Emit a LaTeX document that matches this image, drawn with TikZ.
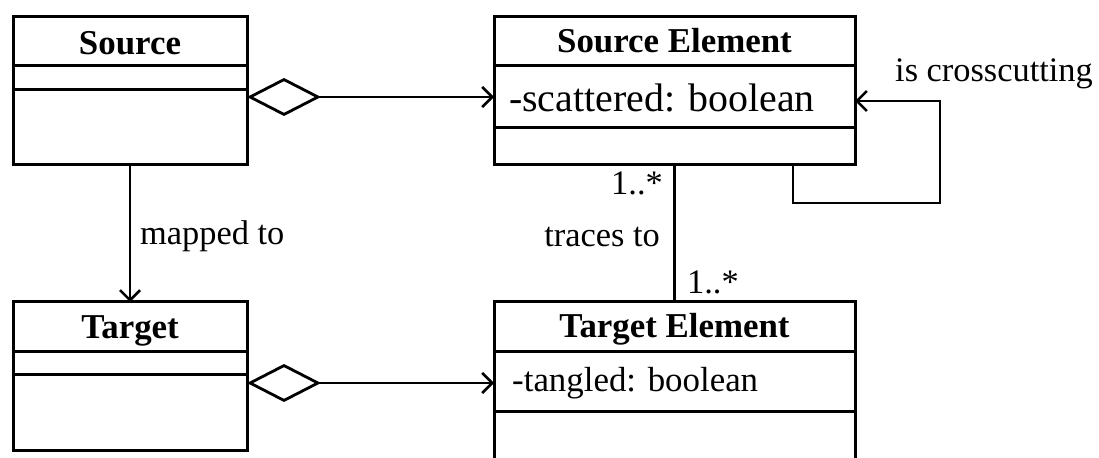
\documentclass[tikz,border=0pt]{standalone}
\usepackage{fontspec}
\setmainfont{Liberation Serif}
\usetikzlibrary{arrows.meta}
\begin{document}
\begin{tikzpicture}[x=1bp,y=-1bp,
  cls/.style={draw, line width=3bp, inner sep=0pt, outer sep=0pt, anchor=north west},
  sepline/.style={line width=3bp},
  title/.style={font=\fontsize{35}{40}\selectfont\bfseries, inner sep=0pt, anchor=base},
  lbl/.style={font=\fontsize{34.5}{40}\selectfont, inner sep=0pt},
  attr/.style={inner sep=0pt, anchor=base west},
  barb/.tip={Straight Barb[length=10bp,width=20bp,line width=2.6bp]},
  assoc/.style={line width=2.6bp, -barb},
  aggr/.style={line width=2.6bp, {Diamond[open,length=74bp,width=38bp,line width=2.8bp]}-barb}
]
\path[use as bounding box] (0,0) rectangle (1099,458);
\clip (0,0) rectangle (1099,458);

% classes
\node[cls, minimum width=234bp, minimum height=148bp] (src) at (13,17) {};
\node[cls, minimum width=361bp, minimum height=148bp] (se)  at (494,17) {};
\node[cls, minimum width=234bp, minimum height=148bp] (tgt) at (13,302) {};
\node[cls, minimum width=361bp, minimum height=180bp] (te)  at (494,302) {};

% compartments
\draw[sepline] (src.west |- 0,66) -- (src.east |- 0,66);
\draw[sepline] (src.west |- 0,90) -- (src.east |- 0,90);
\draw[sepline] (se.west |- 0,66) -- (se.east |- 0,66);
\draw[sepline] (se.west |- 0,128) -- (se.east |- 0,128);
\draw[sepline] (tgt.west |- 0,352) -- (tgt.east |- 0,352);
\draw[sepline] (tgt.west |- 0,375) -- (tgt.east |- 0,375);
\draw[sepline] (te.west |- 0,352) -- (te.east |- 0,352);
\draw[sepline] (te.west |- 0,412) -- (te.east |- 0,412);

% class names and attributes
\node[title] (srcname) at (130,55) {Source};
\node[title] (sename) at (674.5,53) {Source Element};
\node[title] (tgtname) at (130,339) {Target};
\node[title] (tename) at (674.5,338) {Target Element};
\node[attr, font=\fontsize{40}{44}\selectfont] (seattr) at (509,112) {-scattered: boolean};
\node[attr, font=\fontsize{35}{40}\selectfont] (teattr) at (512,392) {-tangled: boolean};

% aggregations
\draw[aggr] (src.east |- 0,97) -- (se.west |- 0,97);
\draw[aggr] (tgt.east |- 0,383) -- (te.west |- 0,383);

% mapped to
\draw[assoc] (src.south) -- (tgt.north);
\node[lbl, anchor=base west] (maplbl) at (140,245) {mapped to};

% traces to
\draw[line width=2.6bp] (se.south) -- (te.north);
\node[lbl, anchor=base east] (m1) at (663,195) {1..*};
\node[lbl, anchor=base east] (tracelbl) at (660,247) {traces to};
\node[lbl, anchor=base west] (m2) at (687,294) {1..*};

% self association
\coordinate (loopa) at (940,203);
\coordinate (loopb) at (940,101);
\draw[assoc] (se.south -| 793,0) |- (loopa) -- (loopb) -- (se.east |- loopb);
\node[lbl, anchor=base west] (crosslbl) at (895,82) {is crosscutting};
\end{tikzpicture}
\end{document}
